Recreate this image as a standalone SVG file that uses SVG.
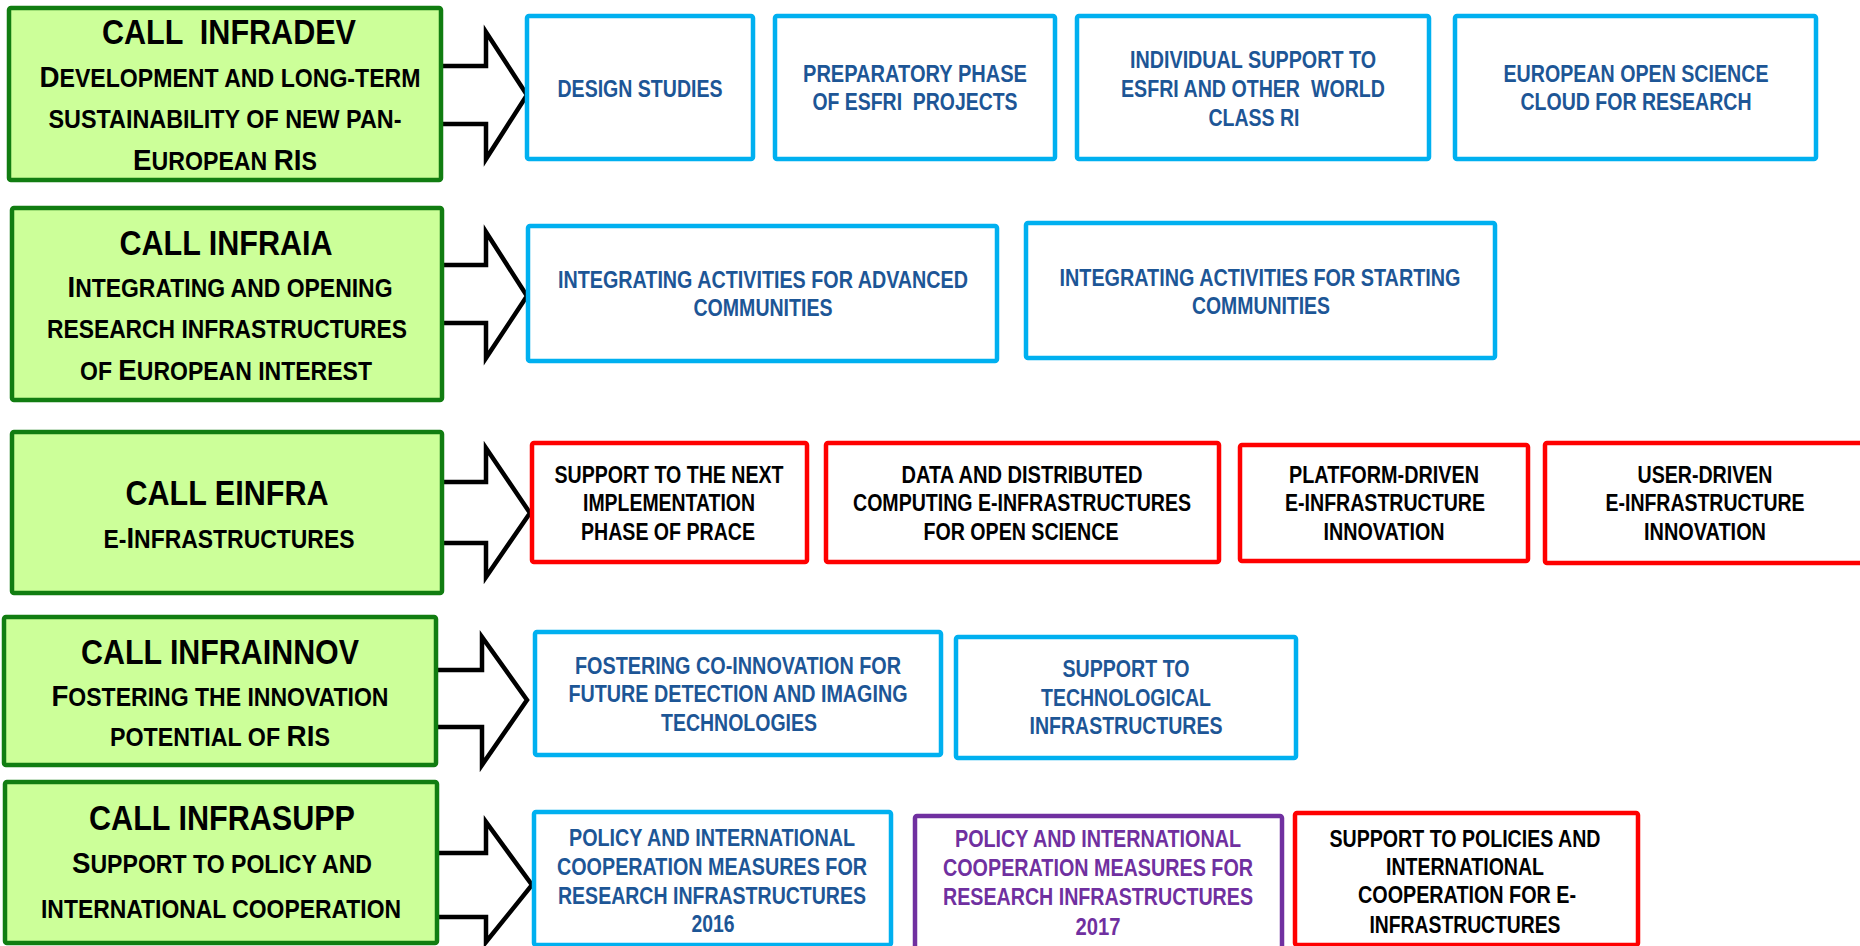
<svg xmlns="http://www.w3.org/2000/svg" width="1860" height="946" viewBox="0 0 1860 946">
<style>
text{font-family:"Liberation Sans Narrow","Liberation Sans",Arial,sans-serif;font-weight:bold;text-anchor:middle;white-space:pre}
.call rect{fill:#ccff99;stroke:#117d11;stroke-width:4.5}
.call text{fill:#000}
.t{font-size:35px}
.b{font-size:30px}
.s{font-size:25px}
.box rect{fill:#fff;stroke-width:4.5}
.box text{font-size:24px}
.blue rect{stroke:#00b0f0}
.blue text{fill:#1d5696}
.red rect{stroke:#ff0000}
.red text{fill:#000}
.purple rect{stroke:#7030a0}
.purple text{fill:#7030a0}
.arrow{fill:#fff;stroke:#000;stroke-width:4.5;stroke-linejoin:miter}
</style>
<rect width="1860" height="946" fill="#fff"/>
<g id="connectors">
<path class="arrow" d="M441,66 H486 V32 L527,95 L486,159 V124 H441"/>
<path class="arrow" d="M441,265 H486 V232 L527,296 L486,358 V323 H441"/>
<path class="arrow" d="M441,482 H486 V448 L530,513 L486,577 V543 H441"/>
<path class="arrow" d="M436,670 H482 V637 L527,700 L482,765 V727 H436"/>
<path class="arrow" d="M437,853 H486 V822 L532,885 L486,942 V917 H437"/>
</g>
<g id="call-infradev" class="call">
<rect x="9" y="8" width="432" height="172" rx="2"/>
<text class="t" x="229" y="44" textLength="254" lengthAdjust="spacingAndGlyphs">CALL  INFRADEV</text>
<text x="230" y="87" textLength="381" lengthAdjust="spacingAndGlyphs"><tspan class="b">D</tspan><tspan class="s">EVELOPMENT AND LONG-TERM</tspan></text>
<text class="s" x="225" y="128" textLength="353" lengthAdjust="spacingAndGlyphs">SUSTAINABILITY OF NEW PAN-</text>
<text x="225" y="170" textLength="184" lengthAdjust="spacingAndGlyphs"><tspan class="b">E</tspan><tspan class="s">UROPEAN </tspan><tspan class="b">RI</tspan><tspan class="s">S</tspan></text>
</g>
<g id="call-infraia" class="call">
<rect x="12" y="208" width="430" height="192" rx="2"/>
<text class="t" x="226" y="255" textLength="213" lengthAdjust="spacingAndGlyphs">CALL INFRAIA</text>
<text x="230" y="297" textLength="325" lengthAdjust="spacingAndGlyphs"><tspan class="b">I</tspan><tspan class="s">NTEGRATING AND OPENING</tspan></text>
<text class="s" x="227" y="338" textLength="360" lengthAdjust="spacingAndGlyphs">RESEARCH INFRASTRUCTURES</text>
<text x="226" y="380" textLength="292" lengthAdjust="spacingAndGlyphs"><tspan class="s">OF </tspan><tspan class="b">E</tspan><tspan class="s">UROPEAN INTEREST</tspan></text>
</g>
<g id="call-einfra" class="call">
<rect x="12" y="432" width="430" height="161" rx="2"/>
<text class="t" x="227" y="505" textLength="203" lengthAdjust="spacingAndGlyphs">CALL EINFRA</text>
<text x="229" y="548" textLength="251" lengthAdjust="spacingAndGlyphs"><tspan class="s">E-</tspan><tspan class="b">I</tspan><tspan class="s">NFRASTRUCTURES</tspan></text>
</g>
<g id="call-infrainnov" class="call">
<rect x="4" y="617" width="432" height="148" rx="2"/>
<text class="t" x="220" y="664" textLength="278" lengthAdjust="spacingAndGlyphs">CALL INFRAINNOV</text>
<text x="220" y="706" textLength="337" lengthAdjust="spacingAndGlyphs"><tspan class="b">F</tspan><tspan class="s">OSTERING THE INNOVATION</tspan></text>
<text x="220" y="746" textLength="220" lengthAdjust="spacingAndGlyphs"><tspan class="s">POTENTIAL OF </tspan><tspan class="b">RI</tspan><tspan class="s">S</tspan></text>
</g>
<g id="call-infrasupp" class="call">
<rect x="5" y="782" width="432" height="161" rx="2"/>
<text class="t" x="222" y="830" textLength="266" lengthAdjust="spacingAndGlyphs">CALL INFRASUPP</text>
<text x="222" y="873" textLength="300" lengthAdjust="spacingAndGlyphs"><tspan class="b">S</tspan><tspan class="s">UPPORT TO POLICY AND</tspan></text>
<text class="s" x="221" y="918" textLength="360" lengthAdjust="spacingAndGlyphs">INTERNATIONAL COOPERATION</text>
</g>
<g id="design-studies" class="box blue">
<rect x="527" y="16" width="226" height="143" rx="2"/>
<text x="640" y="97" textLength="165" lengthAdjust="spacingAndGlyphs">DESIGN STUDIES</text>
</g>
<g id="preparatory-phase" class="box blue">
<rect x="775" y="16" width="280" height="143" rx="2"/>
<text x="915" y="82" textLength="224" lengthAdjust="spacingAndGlyphs">PREPARATORY PHASE</text>
<text x="915" y="110" textLength="205" lengthAdjust="spacingAndGlyphs">OF ESFRI  PROJECTS</text>
</g>
<g id="individual-support" class="box blue">
<rect x="1077" y="16" width="352" height="143" rx="2"/>
<text x="1253" y="68" textLength="246" lengthAdjust="spacingAndGlyphs">INDIVIDUAL SUPPORT TO</text>
<text x="1253" y="97" textLength="264" lengthAdjust="spacingAndGlyphs">ESFRI AND OTHER  WORLD</text>
<text x="1254" y="126" textLength="91" lengthAdjust="spacingAndGlyphs">CLASS RI</text>
</g>
<g id="eosc" class="box blue">
<rect x="1455" y="16" width="361" height="143" rx="2"/>
<text x="1636" y="82" textLength="265" lengthAdjust="spacingAndGlyphs">EUROPEAN OPEN SCIENCE</text>
<text x="1636" y="110" textLength="231" lengthAdjust="spacingAndGlyphs">CLOUD FOR RESEARCH</text>
</g>
<g id="ia-advanced" class="box blue">
<rect x="528" y="226" width="469" height="135" rx="2"/>
<text x="763" y="288" textLength="410" lengthAdjust="spacingAndGlyphs">INTEGRATING ACTIVITIES FOR ADVANCED</text>
<text x="763" y="316" textLength="139" lengthAdjust="spacingAndGlyphs">COMMUNITIES</text>
</g>
<g id="ia-starting" class="box blue">
<rect x="1026" y="223" width="469" height="135" rx="2"/>
<text x="1260" y="286" textLength="401" lengthAdjust="spacingAndGlyphs">INTEGRATING ACTIVITIES FOR STARTING</text>
<text x="1261" y="314" textLength="138" lengthAdjust="spacingAndGlyphs">COMMUNITIES</text>
</g>
<g id="prace" class="box red">
<rect x="532" y="443" width="275" height="119" rx="2"/>
<text x="669" y="483" textLength="229" lengthAdjust="spacingAndGlyphs">SUPPORT TO THE NEXT</text>
<text x="669" y="511" textLength="172" lengthAdjust="spacingAndGlyphs">IMPLEMENTATION</text>
<text x="668" y="540" textLength="174" lengthAdjust="spacingAndGlyphs">PHASE OF PRACE</text>
</g>
<g id="data-computing" class="box red">
<rect x="826" y="443" width="393" height="119" rx="2"/>
<text x="1022" y="483" textLength="241" lengthAdjust="spacingAndGlyphs">DATA AND DISTRIBUTED</text>
<text x="1022" y="511" textLength="338" lengthAdjust="spacingAndGlyphs">COMPUTING E-INFRASTRUCTURES</text>
<text x="1021" y="540" textLength="195" lengthAdjust="spacingAndGlyphs">FOR OPEN SCIENCE</text>
</g>
<g id="platform-driven" class="box red">
<rect x="1240" y="445" width="288" height="116" rx="2"/>
<text x="1384" y="483" textLength="190" lengthAdjust="spacingAndGlyphs">PLATFORM-DRIVEN</text>
<text x="1385" y="511" textLength="200" lengthAdjust="spacingAndGlyphs">E-INFRASTRUCTURE</text>
<text x="1384" y="540" textLength="121" lengthAdjust="spacingAndGlyphs">INNOVATION</text>
</g>
<g id="user-driven" class="box red">
<rect x="1545" y="443" width="340" height="120" rx="2"/>
<text x="1705" y="483" textLength="135" lengthAdjust="spacingAndGlyphs">USER-DRIVEN</text>
<text x="1705" y="511" textLength="199" lengthAdjust="spacingAndGlyphs">E-INFRASTRUCTURE</text>
<text x="1705" y="540" textLength="122" lengthAdjust="spacingAndGlyphs">INNOVATION</text>
</g>
<g id="co-innovation" class="box blue">
<rect x="535" y="632" width="406" height="123" rx="2"/>
<text x="738" y="674" textLength="326" lengthAdjust="spacingAndGlyphs">FOSTERING CO-INNOVATION FOR</text>
<text x="738" y="702" textLength="339" lengthAdjust="spacingAndGlyphs">FUTURE DETECTION AND IMAGING</text>
<text x="739" y="731" textLength="156" lengthAdjust="spacingAndGlyphs">TECHNOLOGIES</text>
</g>
<g id="technological-infra" class="box blue">
<rect x="956" y="637" width="340" height="121" rx="2"/>
<text x="1126" y="677" textLength="127" lengthAdjust="spacingAndGlyphs">SUPPORT TO</text>
<text x="1126" y="706" textLength="170" lengthAdjust="spacingAndGlyphs">TECHNOLOGICAL</text>
<text x="1126" y="734" textLength="193" lengthAdjust="spacingAndGlyphs">INFRASTRUCTURES</text>
</g>
<g id="policy-2016" class="box blue">
<rect x="534" y="812" width="357" height="133" rx="2"/>
<text x="712" y="846" textLength="286" lengthAdjust="spacingAndGlyphs">POLICY AND INTERNATIONAL</text>
<text x="712" y="875" textLength="310" lengthAdjust="spacingAndGlyphs">COOPERATION MEASURES FOR</text>
<text x="712" y="904" textLength="308" lengthAdjust="spacingAndGlyphs">RESEARCH INFRASTRUCTURES</text>
<text x="713" y="932" textLength="43" lengthAdjust="spacingAndGlyphs">2016</text>
</g>
<g id="policy-2017" class="box purple">
<rect x="915" y="816" width="367" height="134" rx="2"/>
<text x="1098" y="847" textLength="286" lengthAdjust="spacingAndGlyphs">POLICY AND INTERNATIONAL</text>
<text x="1098" y="876" textLength="310" lengthAdjust="spacingAndGlyphs">COOPERATION MEASURES FOR</text>
<text x="1098" y="905" textLength="310" lengthAdjust="spacingAndGlyphs">RESEARCH INFRASTRUCTURES</text>
<text x="1098" y="935" textLength="45" lengthAdjust="spacingAndGlyphs">2017</text>
</g>
<g id="policies-einfra" class="box red">
<rect x="1295" y="813" width="343" height="132" rx="2"/>
<text x="1465" y="847" textLength="271" lengthAdjust="spacingAndGlyphs">SUPPORT TO POLICIES AND</text>
<text x="1465" y="875" textLength="158" lengthAdjust="spacingAndGlyphs">INTERNATIONAL</text>
<text x="1467" y="903" textLength="218" lengthAdjust="spacingAndGlyphs">COOPERATION FOR E-</text>
<text x="1465" y="933" textLength="191" lengthAdjust="spacingAndGlyphs">INFRASTRUCTURES</text>
</g>
</svg>
